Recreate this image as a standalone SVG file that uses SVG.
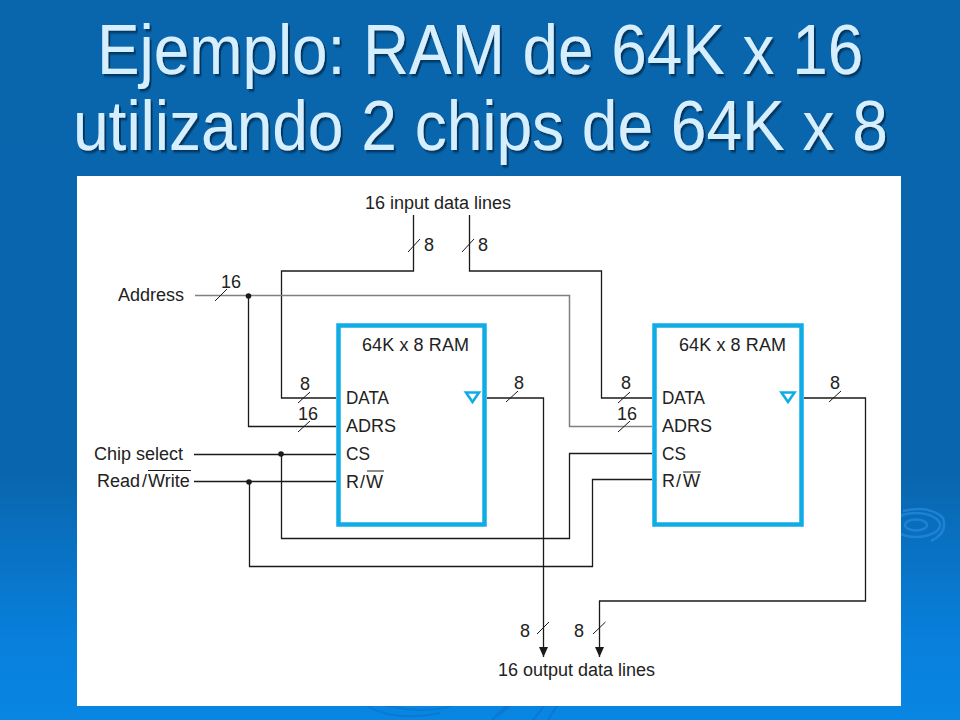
<svg xmlns="http://www.w3.org/2000/svg" width="960" height="720" viewBox="0 0 960 720">
<defs>
<linearGradient id="bg" x1="0" y1="0" x2="0" y2="1">
<stop offset="0" stop-color="#0966ad"/><stop offset="0.66" stop-color="#0966ae"/><stop offset="0.89" stop-color="#0880dc"/><stop offset="1" stop-color="#0886e2"/>
</linearGradient>
<marker id="arrow" markerUnits="userSpaceOnUse" markerWidth="9" markerHeight="10" refX="4.5" refY="10" orient="0" viewBox="0 0 9 10"><path d="M0 0H9L4.500 10Z" fill="#1a1a1a"/></marker>
<filter id="ds" x="-3%" y="-15%" width="106%" height="135%"><feDropShadow dx="2" dy="2.300" stdDeviation="0.800" flood-color="#06305a" flood-opacity="0.95"/></filter>
</defs>
<style>
text{font-family:"Liberation Sans",Arial,sans-serif;fill:#222;font-size:18px}
.title{font-size:65px;fill:#d6efff;filter:url(#ds)}
.w{fill:none;stroke:#1a1a1a;stroke-width:1.3}
.g{fill:none;stroke:#808080;stroke-width:1.5}
.t{fill:none;stroke:#1a1a1a;stroke-width:1}
.box{fill:#fff;stroke:#10ace6;stroke-width:4.500}
.tri{fill:none;stroke:#10ace6;stroke-width:2.600}
.r{fill:none;stroke:#2b8fe6;stroke-width:2.500;opacity:.6}
.b{fill:none;stroke:#0a74cc;stroke-width:2;opacity:.7}
</style>
<rect width="960" height="720" fill="url(#bg)"/>
<g id="ripples">
<ellipse class="r" cx="916" cy="525" rx="11" ry="5.500"/><ellipse class="r" cx="916" cy="525" rx="24" ry="12"/>
<path class="r" d="M903 511Q930 505 943 518Q948 533 931 541"/>
<path class="b" d="M365 700Q430 720 465 700M367 706Q395 722 440 713M492 720Q500 712 510 702M497 716L510 706M533 720Q540 712 545 704M548 720Q553 712 558 704"/>
</g>
<g id="title">
<text class="title" transform="translate(97 74) scale(.982 1.092)" x="0" y="0">Ejemplo: RAM de 64K x 16</text>
<text class="title" transform="translate(73 150) scale(.985 1.092)" x="0" y="0">utilizando 2 chips de 64K x 8</text>
</g>
<rect id="panel" x="77" y="176" width="824" height="530" fill="#fff"/>
<g id="connectors">
<path class="w" d="M413.500 215V271H281.500V398H336"/>
<path class="w" d="M469.500 215V271H601.500V398H652"/>
<path class="g" d="M195 295.500H569.500V426.500H652"/>
<path class="w" d="M248.500 296V426.500H336"/>
<path class="w" d="M194 454.500H336"/>
<path class="w" d="M281.500 454V538.500H569.500V453.500H652"/>
<path class="w" d="M194 481.500H336"/>
<path class="w" d="M249.500 482V566.500H592.500V479.500H652"/>
<path class="w" d="M487 398H543.500V657" marker-end="url(#arrow)"/>
<path class="w" d="M804 398H865.500V601H599.500V657" marker-end="url(#arrow)"/>
<circle cx="248.500" cy="296" r="2.800" fill="#1a1a1a"/>
<circle cx="281" cy="454" r="2.800" fill="#1a1a1a"/>
<circle cx="249" cy="482" r="2.800" fill="#1a1a1a"/>
<path class="t" d="M408 252L420 239M462 252L474 239M215 301L227 289M298 403L310 392M298 432L310 421M506 402L518 391M618 403L630 392M618 432L630 421M829 402L841 391M537 634L549 622M593 634L605.500 622"/>
</g>
<g id="ram1">
<rect class="box" x="338.500" y="325.500" width="146" height="199"/>
<path class="tri" d="M466 392.500H479L472.500 402Z"/>
<text x="362" y="351" textLength="107">64K x 8 RAM</text>
<text x="346" y="404" textLength="43" lengthAdjust="spacingAndGlyphs">DATA</text>
<text x="346" y="432">ADRS</text>
<text x="346" y="460" textLength="24" lengthAdjust="spacingAndGlyphs">CS</text>
<text x="346" y="488">R</text><text x="360" y="488">/</text><text x="366" y="488">W</text>
<path class="t" d="M367 471H384"/>
</g>
<g id="ram2">
<rect class="box" x="654.500" y="325.500" width="147" height="199"/>
<path class="tri" d="M781.500 392.500H794.500L788 402Z"/>
<text x="679" y="351" textLength="107">64K x 8 RAM</text>
<text x="662" y="404" textLength="43" lengthAdjust="spacingAndGlyphs">DATA</text>
<text x="662" y="432">ADRS</text>
<text x="662" y="460" textLength="24" lengthAdjust="spacingAndGlyphs">CS</text>
<text x="662" y="487">R</text><text x="676" y="487">/</text><text x="683" y="487">W</text>
<path class="t" d="M683 472H701"/>
</g>
<g id="labels">
<text x="365" y="209">16 input data lines</text>
<text x="424" y="251">8</text><text x="478" y="251">8</text>
<text x="118" y="301">Address</text>
<text x="221" y="288">16</text>
<text x="300" y="390">8</text><text x="298" y="420">16</text>
<text x="514" y="389">8</text><text x="621" y="389">8</text><text x="617" y="420">16</text><text x="830" y="389">8</text>
<text x="94" y="460">Chip select</text>
<text x="97" y="487">Read</text><text x="142" y="487">/</text><text x="148" y="487">Write</text>
<path class="t" d="M148 470.500H191"/>
<text x="520" y="637">8</text><text x="574" y="637">8</text>
<text x="498" y="676">16 output data lines</text>
</g>
</svg>
